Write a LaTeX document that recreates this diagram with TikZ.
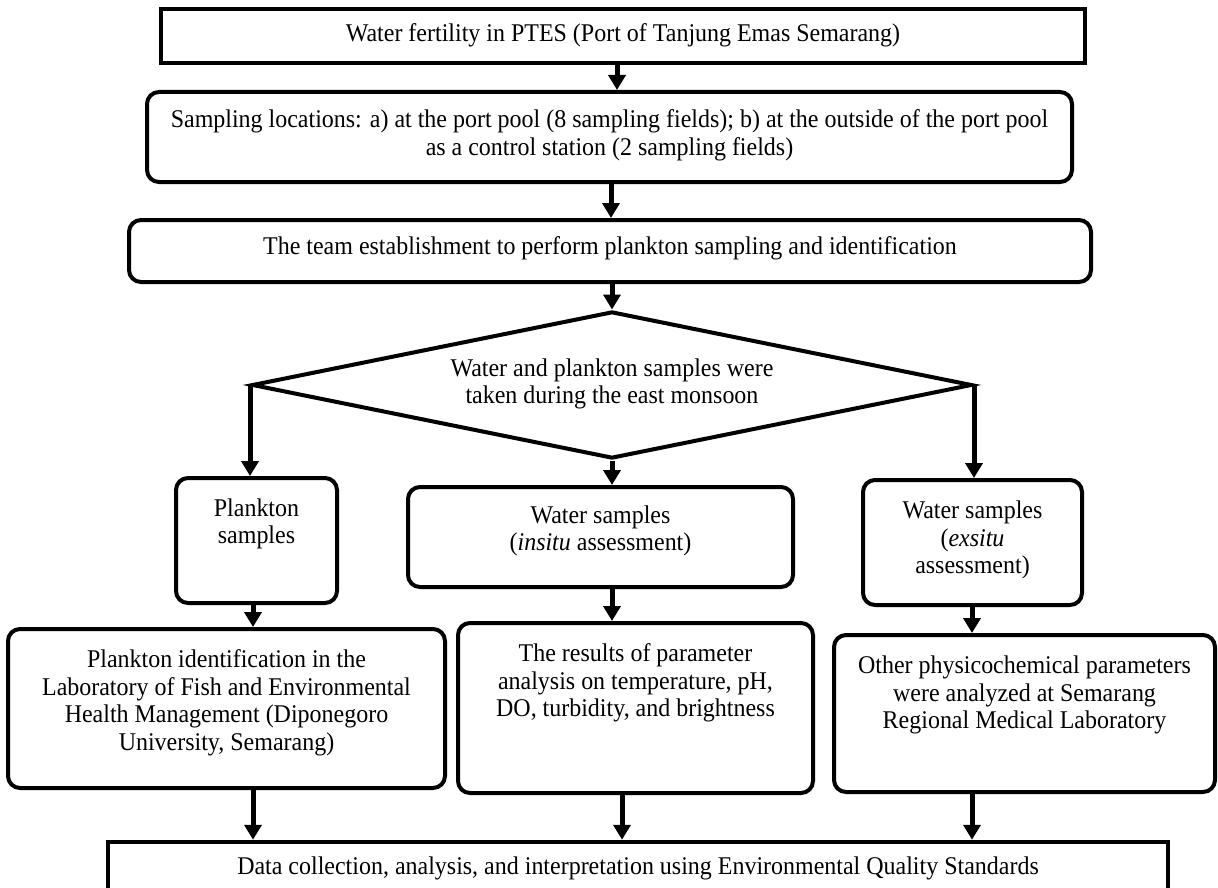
\documentclass[tikz,border=0pt]{standalone}
\usepackage{fontspec}
\setmainfont{Liberation Serif}[FakeStretch=0.94]
\usetikzlibrary{arrows.meta,shapes.geometric}
\tikzset{
  sqbox/.style={draw, line width=4.5pt, rectangle, inner sep=0pt},
  rbox/.style={draw, line width=4pt, rectangle, rounded corners=12pt, inner sep=0pt},
  dbox/.style={draw, line width=4pt, diamond, aspect=4.9, inner sep=0pt, minimum width=720pt, minimum height=147pt},
  txt/.style={align=center, inner sep=0pt, font=\fontsize{25.5}{27.5}\selectfont},
  arr/.style={line width=5pt, -{Triangle[length=15pt,width=17pt]}}
}
\begin{document}
\begin{tikzpicture}[x=1pt,y=-1pt]
\clip (0,0) rectangle (1218,888);
\fill[white] (0,0) rectangle (1218,888);
% boxes
\node[sqbox, minimum width=924pt, minimum height=54pt] (b1) at (623,36) {};
\node[txt] (t1) at (623,35) {Water fertility in PTES (Port of Tanjung Emas Semarang)};
\node[rbox, minimum width=925pt, minimum height=90pt] (b2) at (609.5,137) {};
\node[txt] (t2) at (609.5,135.5) {Sampling locations: a) at the port pool (8 sampling fields); b) at the outside of the port pool\\as a control station (2 sampling fields)};
\node[rbox, minimum width=962pt, minimum height=62pt] (b3) at (610,251) {};
\node[txt] (t3) at (610,248) {The team establishment to perform plankton sampling and identification};
\node[dbox] (dm) at (612,385) {};
\node[txt] (td) at (612,384) {Water and plankton samples were\\taken during the east monsoon};
\node[rbox, minimum width=161pt, minimum height=125pt] (pk) at (256.5,540.5) {};
\node[txt] (tpk) at (256.5,524) {Plankton\\samples};
\node[rbox, minimum width=385pt, minimum height=100pt] (ins) at (600.5,537) {};
\node[txt] (tins) at (600.5,531) {Water samples\\(\textit{insitu} assessment)};
\node[rbox, minimum width=219pt, minimum height=125pt] (exs) at (972.5,542.5) {};
\node[txt] (texs) at (972.5,540) {Water samples\\(\textit{exsitu}\\assessment)};
\node[rbox, minimum width=437pt, minimum height=159pt] (lab) at (226.5,708.5) {};
\node[txt] (tlab) at (226.5,703) {Plankton identification in the\\Laboratory of Fish and Environmental\\Health Management (Diponegoro\\University, Semarang)};
\node[rbox, minimum width=355pt, minimum height=170pt] (res) at (635.5,708) {};
\node[txt] (tres) at (635.5,683) {The results of parameter\\analysis on temperature, pH,\\DO, turbidity, and brightness};
\node[rbox, minimum width=381pt, minimum height=157pt] (oth) at (1024.5,713.5) {};
\node[txt] (toth) at (1024.5,695) {Other physicochemical parameters\\were analyzed at Semarang\\Regional Medical Laboratory};
\node[sqbox, minimum width=1060pt, minimum height=78pt] (dat) at (638,881) {};
\node[txt] (tdat) at (638,868) {Data collection, analysis, and interpretation using Environmental Quality Standards};
% x positions of connectors
\coordinate (x1) at (617,0);
\coordinate (x2) at (611,0);
\coordinate (xl) at (253,0);
\coordinate (xm) at (612,0);
\coordinate (xr) at (972,0);
\coordinate (xm2) at (622,0);
% connectors
\draw[arr] (b1.south -| x1) -- (b2.north -| x1);
\draw[arr] (b2.south -| x2) -- (b3.north -| x2);
\draw[arr] (b3.south -| dm.north) -- (dm.north);
\draw[arr] (dm.west) -- (dm.west |- pk.north);
\draw[arr] (dm.south) -- (dm.south |- ins.north);
\draw[arr] (dm.east) -- (dm.east |- exs.north);
\draw[arr] (pk.south -| xl) -- (lab.north -| xl);
\draw[arr] (ins.south -| xm) -- (res.north -| xm);
\draw[arr] (exs.south -| xr) -- (oth.north -| xr);
\draw[arr] (lab.south -| xl) -- (dat.north -| xl);
\draw[arr] (res.south -| xm2) -- (dat.north -| xm2);
\draw[arr] (oth.south -| xr) -- (dat.north -| xr);
\end{tikzpicture}
\end{document}
